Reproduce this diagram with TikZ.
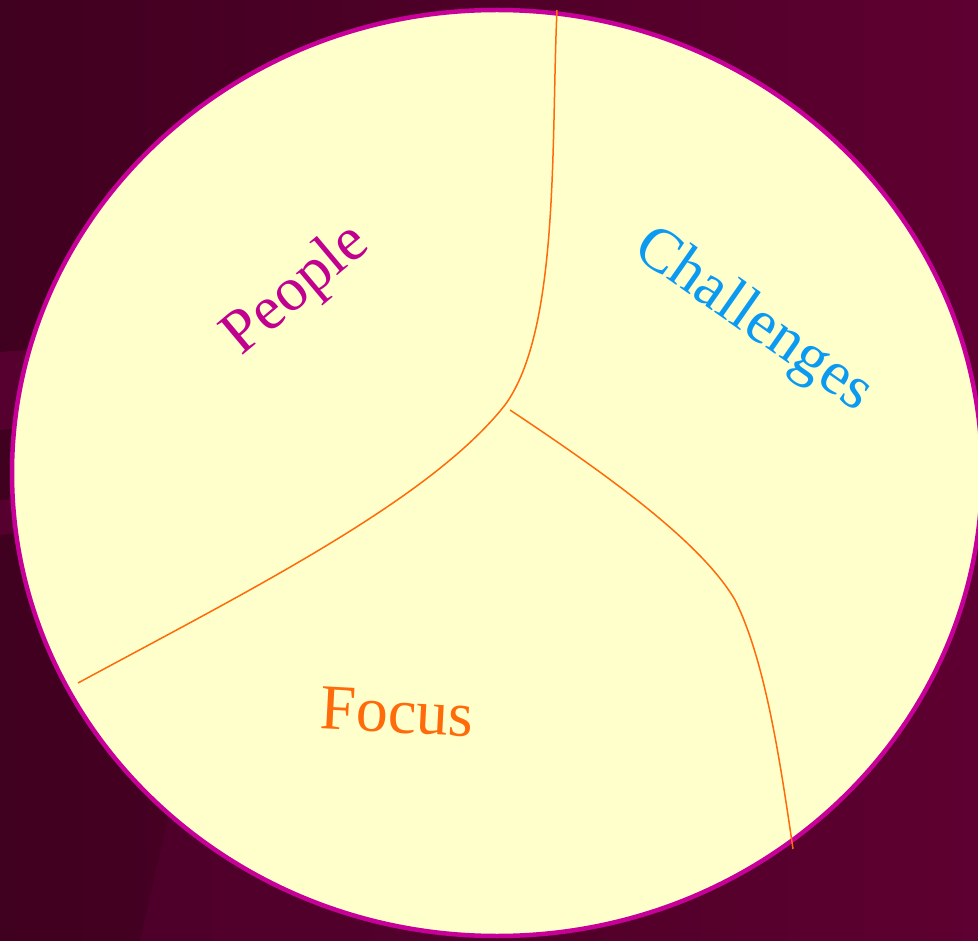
\documentclass[tikz,border=0pt]{standalone}
\usepackage{fontspec}
\setmainfont{Liberation Serif}

\definecolor{bgdark}{HTML}{40001F}
\definecolor{bglight}{HTML}{5E0031}
\definecolor{bgpatch}{HTML}{560030}
\definecolor{rim}{HTML}{C8009A}
\definecolor{paper}{HTML}{FFFFCC}
\definecolor{divider}{HTML}{FF6A0A}
\definecolor{peoplecol}{HTML}{C0008F}
\definecolor{challcol}{HTML}{0A9AF2}
\definecolor{focuscol}{HTML}{FF6A0A}

\tikzset{
  divline/.style={divider, line width=1.5pt},
  sector/.style={inner sep=0pt, font=\fontsize{62}{66}\selectfont}
}

\begin{document}
\begin{tikzpicture}[x=1pt, y=-1pt]
        \useasboundingbox (0,0) rectangle (978,941);
        % background with a few faint patches
        \shade[left color=bgdark, right color=bglight] (0,0) rectangle (978,941);
        \fill[bgpatch] (0,352) -- (80,346) -- (80,424) -- (0,430) -- cycle;
        \fill[bgpatch] (0,500) -- (40,497) -- (40,531) -- (0,535) -- cycle;
        \fill[bgpatch, opacity=0.6] (140,941) -- (168,818) -- (430,880) -- (520,941) -- cycle;
        \fill[bglight, opacity=0.5] (930,228) -- (978,220) -- (978,600) -- (930,600) -- cycle;
        % the disc
        \draw[rim, line width=4.5pt, fill=paper] (497,473) ellipse [x radius=485, y radius=463];
        % dividers
        \coordinate (top) at (557,10);
        \coordinate (hub) at (505,405);
        \coordinate (left) at (78,683);
        \coordinate (fork) at (510,410);
        \coordinate (bend) at (735,600);
        \coordinate (bottom) at (793,849);
        \draw[divline] (top) .. controls (551,140) and (560,330) .. (hub)
              .. controls (430,500) and (250,590) .. (left);
        \draw[divline] (fork) .. controls (600,470) and (700,540) .. (bend)
              .. controls (765,660) and (780,760) .. (bottom);
        % labels
        \node[sector, peoplecol, rotate=40] (people) at (297,291) {People};
        \node[sector, challcol, rotate=-35] (challenges) at (753,321) {Challenges};
        \node[sector, focuscol, rotate=-3, font=\fontsize{64}{68}\selectfont] (focus) at (397,712) {Focus};
    \end{tikzpicture}
\end{document}
